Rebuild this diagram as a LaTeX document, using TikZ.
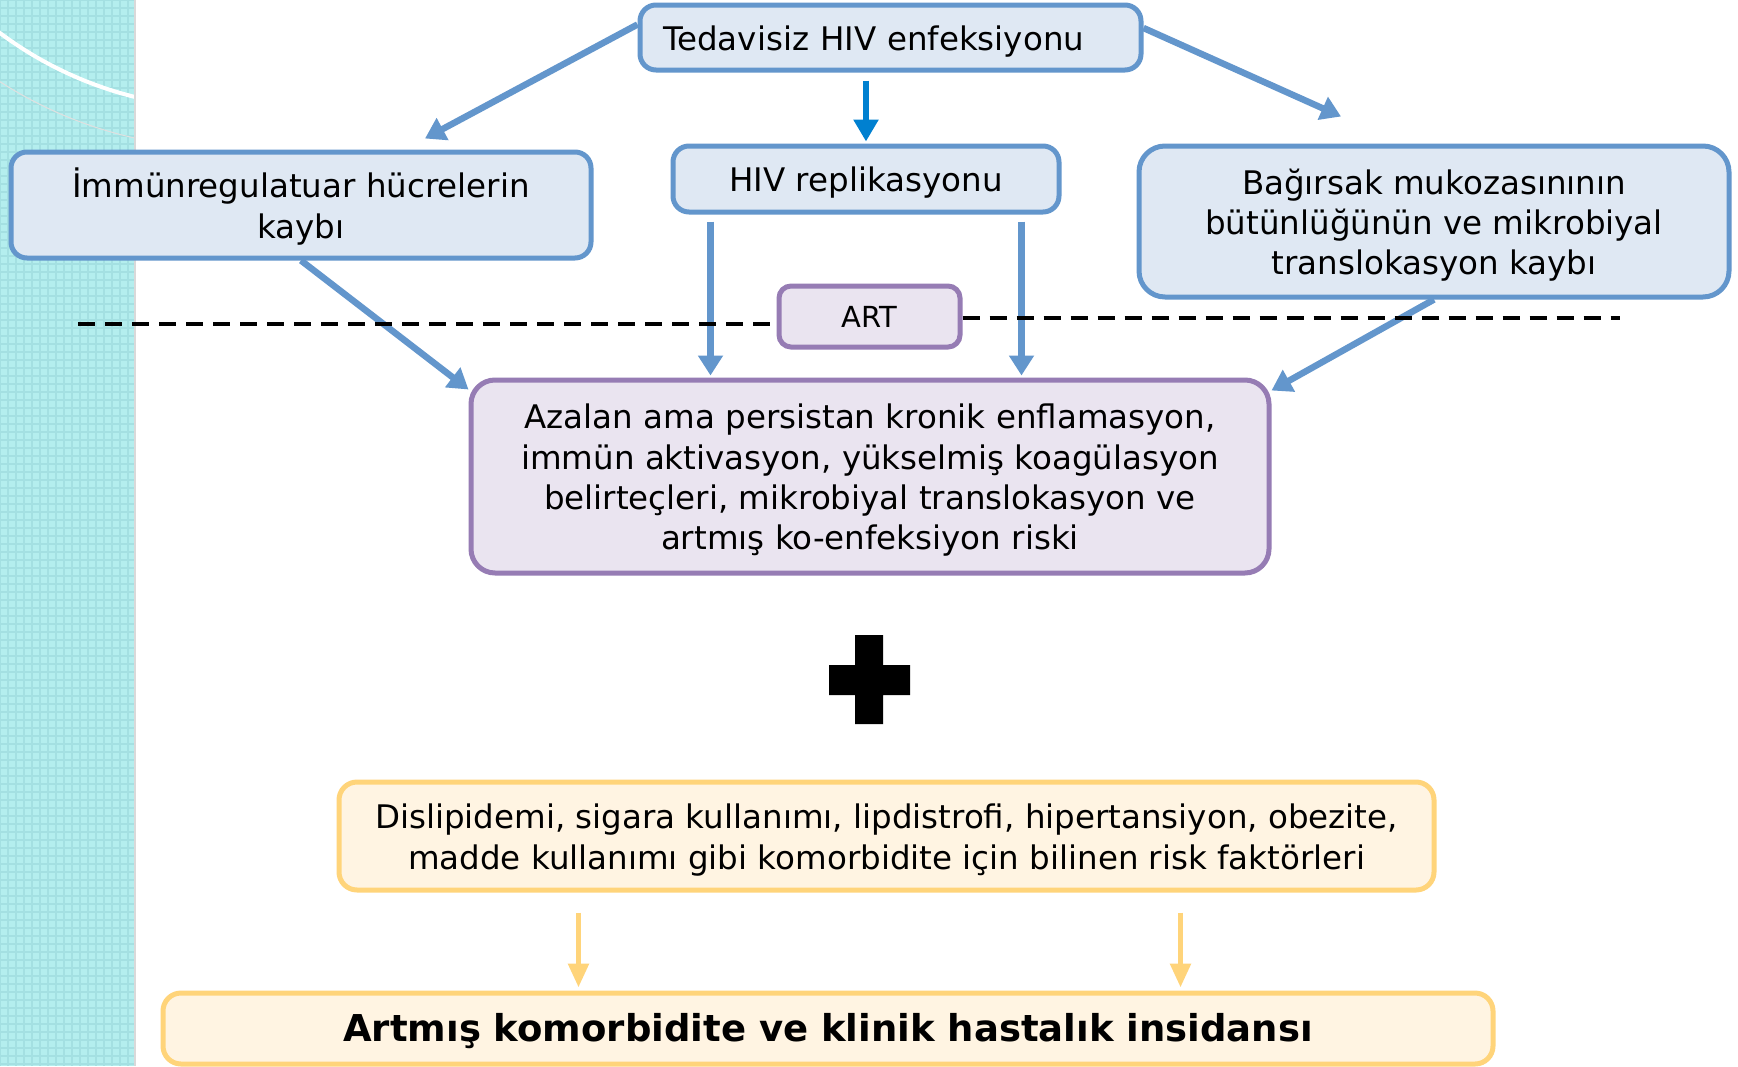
\documentclass[tikz,border=0pt]{standalone}
\usepackage{fontspec}
\setmainfont{DejaVu Sans}
\usetikzlibrary{arrows.meta}
\definecolor{boxblue}{RGB}{99,150,204}
\definecolor{fillblue}{RGB}{223,232,243}
\definecolor{boxpurple}{RGB}{150,124,180}
\definecolor{fillpurple}{RGB}{234,228,240}
\definecolor{boxyellow}{RGB}{255,212,122}
\definecolor{fillyellow}{RGB}{255,244,226}
\definecolor{arrowblue}{RGB}{0,128,208}
\definecolor{stripcyan}{RGB}{180,238,238}
\definecolor{stripdot}{RGB}{164,224,226}
\newcommand{\ls}{\rule[-6.5pt]{0pt}{39pt}}
\tikzset{
  every node/.style={font=\fontsize{32.5}{39}\selectfont},
  bluebox/.style={draw=boxblue,fill=fillblue,line width=5pt,rounded corners=16pt,align=center,inner sep=0pt},
  purplebox/.style={draw=boxpurple,fill=fillpurple,line width=5pt,rounded corners=24pt,align=center,inner sep=0pt},
  yellowbox/.style={draw=boxyellow,fill=fillyellow,line width=5pt,rounded corners=18pt,align=center,inner sep=0pt},
  flow/.style={draw=boxblue,line width=6.5pt,-{Triangle[width=24pt,length=20pt]}},
  darkflow/.style={draw=arrowblue,line width=6.5pt,-{Triangle[width=24pt,length=22pt]}},
  yflow/.style={draw=boxyellow,line width=5.5pt,-{Triangle[width=20pt,length=24pt]}},
  artline/.style={line width=4pt,dash pattern=on 17pt off 10pt}
}

\begin{document}
\begin{tikzpicture}[x=1pt,y=-1pt]
\useasboundingbox (0,0) rectangle (1738,1066);
\fill[white] (0,0) rectangle (1738,1066);
\fill[stripcyan] (0,0) rectangle (135,1066);
\draw[stripdot,line width=1.5pt,step=8pt] (0,0) grid (135,1066);
\begin{scope}
\clip (0,0) rectangle (135,1066);
\draw[black!12,line width=1pt] (226,-270) circle (418);
\draw[white,line width=4pt] (226,-270) circle (378);
\end{scope}
\draw[black!15,line width=2pt] (135,0) -- (135,1066);

\node[bluebox,minimum width=501pt,minimum height=65pt,text width=455pt,align=left,inner xsep=23pt] (top) at (890.5,37.5) {\ls Tedavisiz HIV enfeksiyonu};
\node[bluebox,minimum width=386pt,minimum height=66pt] (hivrep) at (866,179) {\ls HIV replikasyonu};
\node[bluebox,minimum width=580pt,minimum height=106pt] (imm) at (301,205) {\ls İmmünregulatuar hücrelerin\\\ls kaybı};
\node[bluebox,minimum width=590pt,minimum height=151pt,rounded corners=26pt] (gut) at (1434,221.5) {\ls Bağırsak mukozasınının\\\ls bütünlüğünün ve mikrobiyal\\\ls translokasyon kaybı};
\node[purplebox,minimum width=181pt,minimum height=61pt,rounded corners=12pt,font=\fontsize{29}{34}\selectfont] (art) at (869.5,316.5) {ART};
\node[purplebox,minimum width=798pt,minimum height=193pt] (infl) at (870,476.5) {\ls Azalan ama persistan kronik enflamasyon,\\\ls immün aktivasyon, yükselmiş koagülasyon\\\ls belirteçleri, mikrobiyal translokasyon ve\\\ls artmış ko-enfeksiyon riski};
\node[yellowbox,minimum width=1095pt,minimum height=108pt] (risk) at (886.5,836) {\ls Dislipidemi, sigara kullanımı, lipdistrofi, hipertansiyon, obezite,\\\ls madde kullanımı gibi komorbidite için bilinen risk faktörleri};
\node[yellowbox,minimum width=1330pt,minimum height=71pt,font=\fontsize{37}{40}\selectfont\bfseries] (outcome) at (828,1028.5) {\ls Artmış komorbidite ve klinik hastalık insidansı};

\draw[flow] ([yshift=13pt]top.west) -- ([xshift=124pt,yshift=11pt]imm.north);
\draw[flow] ([yshift=9.5pt]top.east) -- ([xshift=-93pt,yshift=27pt]gut.north);
\draw[darkflow,shorten <=8pt,shorten >=2pt] (hivrep.north |- top.south) -- (hivrep.north);
\draw[flow,shorten <=7pt,shorten >=2pt] ([xshift=40pt]hivrep.south west) -- ([xshift=40pt]hivrep.south west |- infl.north);
\draw[flow,shorten <=7pt,shorten >=2pt] ([xshift=-40pt]hivrep.south east) -- ([xshift=-40pt]hivrep.south east |- infl.north);
\draw[flow] (imm.south) -- ([yshift=-12pt]infl.north west);
\draw[flow] (gut.south) -- ([yshift=-13pt]infl.north east);

\coordinate (dashL) at (78,324);
\coordinate (dashR) at (1620,318);
\draw[artline] (dashL) -- (dashL -| art.west);
\draw[artline] (art.east |- dashR) -- (dashR);

\fill (855,635) -- (883,635) -- (883,665) -- (910,665) -- (910,695) -- (883,695)
  -- (883,724) -- (855,724) -- (855,695) -- (829,695) -- (829,665) -- (855,665) -- cycle;

\draw[yflow,shorten <=20pt,shorten >=3pt] ([xshift=242pt]risk.south west) -- ([xshift=242pt]risk.south west |- outcome.north);
\draw[yflow,shorten <=20pt,shorten >=3pt] ([xshift=-256pt]risk.south east) -- ([xshift=-256pt]risk.south east |- outcome.north);
\end{tikzpicture}
\end{document}
